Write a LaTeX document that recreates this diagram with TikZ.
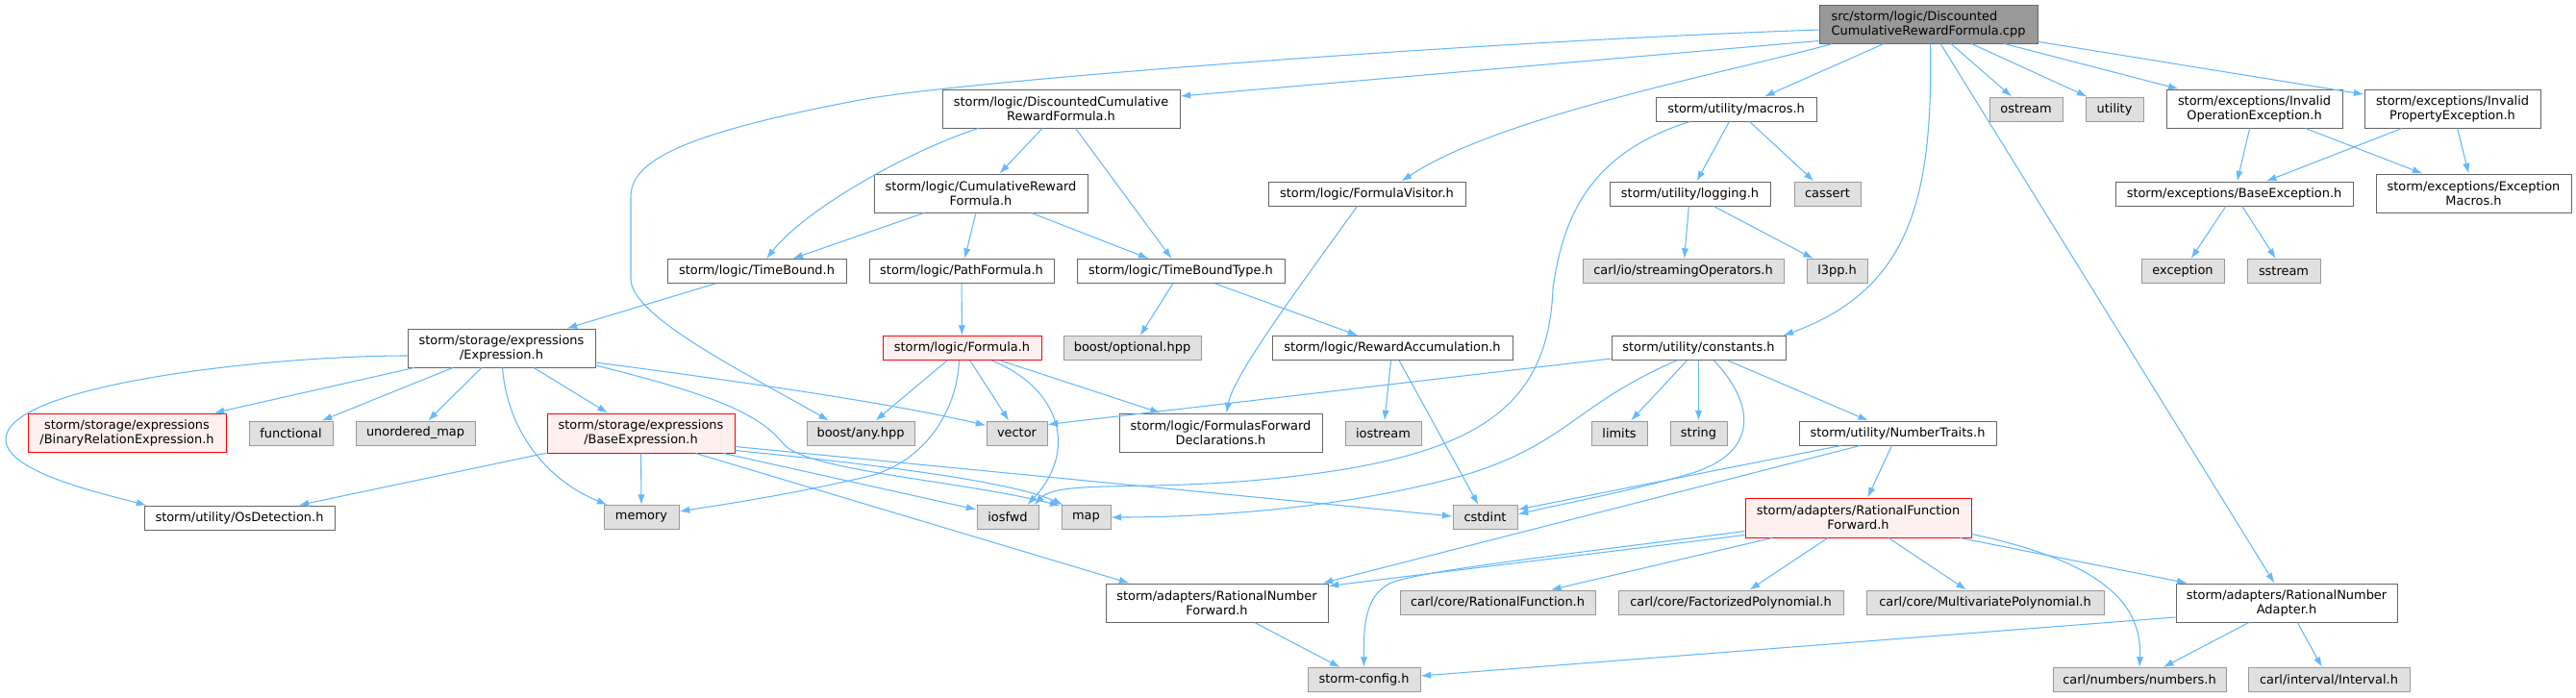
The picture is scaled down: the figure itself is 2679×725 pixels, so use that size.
\documentclass[tikz,border=0pt]{standalone}
\usepackage{fontspec}
\setmainfont{DejaVu Sans}
\usepackage{tikz}
\usetikzlibrary{arrows.meta,calc}
\definecolor{depblue}{HTML}{63B8FF}
\definecolor{hborder}{HTML}{666666}
\definecolor{sysfill}{HTML}{E0E0E0}
\definecolor{sysborder}{HTML}{999999}
\definecolor{cutfill}{HTML}{FFF0F0}

\begin{document}
\begin{tikzpicture}[x=.75pt, y=-.75pt,
    every node/.style={font=\fontsize{9.7}{11.25}\selectfont, inner sep=0pt, align=center},
    hfile/.style={draw=hborder, fill=white, line width=.75pt},
    sfile/.style={draw=sysborder, fill=sysfill, line width=.75pt},
    cfile/.style={draw=red, fill=cutfill, line width=.75pt},
    rootfile/.style={draw=hborder, fill=sysborder, line width=.75pt, align=left},
    wh/.style 2 args={minimum width=#1*.75pt, minimum height=#2*.75pt},
    dep/.style={draw=depblue, line width=.8pt, -{Latex[length=8pt,width=5.5pt]}}]
   \useasboundingbox (0,0) rectangle (2679,725);
   \node[rootfile, wh={227}{40}] (top) at (2005.5,25) {src/storm/logic/Discounted\\CumulativeRewardFormula.cpp};
   \node[hfile, wh={247}{40}] (dcrf) at (1103.5,113) {storm/logic/DiscountedCumulative\\RewardFormula.h};
   \node[hfile, wh={167}{25}] (macros) at (1805.5,113.5) {storm/utility/macros.h};
   \node[sfile, wh={76}{25}] (ostream) at (2107,113.5) {ostream};
   \node[sfile, wh={60}{25}] (utility) at (2199,113.5) {utility};
   \node[hfile, wh={183}{40}] (invop) at (2344.5,113) {storm/exceptions/Invalid\\OperationException.h};
   \node[hfile, wh={183}{40}] (invprop) at (2550.5,113) {storm/exceptions/Invalid\\PropertyException.h};
   \node[hfile, wh={222}{40}] (crf) at (1020,201) {storm/logic/CumulativeReward\\Formula.h};
   \node[hfile, wh={205}{25}] (fvis) at (1421.5,201.5) {storm/logic/FormulaVisitor.h};
   \node[hfile, wh={167}{25}] (logging) at (1757.5,201.5) {storm/utility/logging.h};
   \node[sfile, wh={69}{25}] (cassert) at (1900.5,201.5) {cassert};
   \node[hfile, wh={247}{25}] (baseexc) at (2323.5,201.5) {storm/exceptions/BaseException.h};
   \node[hfile, wh={203}{40}] (excmac) at (2572.5,201) {storm/exceptions/Exception\\Macros.h};
   \node[hfile, wh={186}{25}] (tbound) at (787,282) {storm/logic/TimeBound.h};
   \node[hfile, wh={192}{25}] (pathf) at (1000,282) {storm/logic/PathFormula.h};
   \node[hfile, wh={216}{25}] (tbtype) at (1228,282) {storm/logic/TimeBoundType.h};
   \node[sfile, wh={209}{25}] (strops) at (1750.5,282) {carl/io/streamingOperators.h};
   \node[sfile, wh={63}{25}] (l3pp) at (1910.5,282) {l3pp.h};
   \node[sfile, wh={86}{25}] (exception) at (2270,282) {exception};
   \node[sfile, wh={76}{25}] (sstream) at (2375,282) {sstream};
   \node[hfile, wh={195}{40}] (expr) at (521.5,362) {storm/storage/expressions\\/Expression.h};
   \node[cfile, wh={165}{25}] (formula) at (1000.5,362) {storm/logic/Formula.h};
   \node[sfile, wh={143}{25}] (optional) at (1177.5,362) {boost/optional.hpp};
   \node[hfile, wh={250}{25}] (rewacc) at (1448,362) {storm/logic/RewardAccumulation.h};
   \node[hfile, wh={181}{25}] (consts) at (1766.5,362) {storm/utility/constants.h};
   \node[cfile, wh={206}{40}] (binrel) at (132,450) {storm/storage/expressions\\/BinaryRelationExpression.h};
   \node[sfile, wh={87}{25}] (functional) at (302.5,450.5) {functional};
   \node[sfile, wh={124}{25}] (umap) at (432,450.5) {unordered\_map};
   \node[cfile, wh={195}{41}] (baseexpr) at (666.5,450.5) {storm/storage/expressions\\/BaseExpression.h};
   \node[sfile, wh={112}{25}] (anyhpp) at (895,450.5) {boost/any.hpp};
   \node[sfile, wh={63}{25}] (vector) at (1057.5,450.5) {vector};
   \node[hfile, wh={211}{40}] (ffwd) at (1269.5,450) {storm/logic/FormulasForward\\Declarations.h};
   \node[sfile, wh={79}{25}] (iostream) at (1438.5,450.5) {iostream};
   \node[sfile, wh={58}{25}] (limits) at (1684,450.5) {limits};
   \node[sfile, wh={59}{25}] (string) at (1766.5,450.5) {string};
   \node[hfile, wh={205}{25}] (numtraits) at (1973.5,450.5) {storm/utility/NumberTraits.h};
   \node[hfile, wh={198}{25}] (osdet) at (249,538.5) {storm/utility/OsDetection.h};
   \node[sfile, wh={78}{25}] (memory) at (667,538) {memory};
   \node[sfile, wh={64}{25}] (iosfwd) at (1048,538) {iosfwd};
   \node[sfile, wh={51}{25}] (map) at (1129.5,538) {map};
   \node[sfile, wh={67}{25}] (cstdint) at (1544.5,538) {cstdint};
   \node[cfile, wh={235}{41}] (rffwd) at (1932.5,538.5) {storm/adapters/RationalFunction\\Forward.h};
   \node[hfile, wh={231}{40}] (rnfwd) at (1265.5,627) {storm/adapters/RationalNumber\\Forward.h};
   \node[sfile, wh={203}{25}] (ratfun) at (1557.5,626.5) {carl/core/RationalFunction.h};
   \node[sfile, wh={234}{25}] (factpoly) at (1800,626.5) {carl/core/FactorizedPolynomial.h};
   \node[sfile, wh={247}{25}] (multipoly) at (2064.5,626.5) {carl/core/MultivariatePolynomial.h};
   \node[hfile, wh={230}{40}] (ratadapt) at (2378,627) {storm/adapters/RationalNumber\\Adapter.h};
   \node[sfile, wh={117}{25}] (config) at (1418.5,707) {storm-config.h};
   \node[sfile, wh={180}{25}] (numbers) at (2225,707) {carl/numbers/numbers.h};
   \node[sfile, wh={168}{25}] (interval) at (2422,707) {carl/interval/Interval.h};
   \draw[dep] ($(top.west)+(0,6)$) .. controls (1500,45) and (1000,85) .. (900,103) .. controls (700,140) and (656,170) .. (656,205) -- (656,290) .. controls (656,330) and (780,390) .. ($(anyhpp.north)+(-33,0)$);
   \draw[dep] ($(top.south west)+(0,-3)$) -- ($(dcrf.east)+(0,-13)$);
   \draw[dep] ($(top.south west)+(14,0)$) .. controls (1800,75) and (1560,120) .. ($(fvis.north)+(36,0)$);
   \draw[dep] (top) -- (macros);
   \draw[dep] ($(top.south)+(2,0)$) .. controls (2010,200) and (1990,300) .. ($(consts.north east)+(-3,0)$);
   \draw[dep] (top) -- (ratadapt);
   \draw[dep] (top) -- (ostream);
   \draw[dep] (top) -- (utility);
   \draw[dep] (top) -- (invop);
   \draw[dep] (top) -- (invprop);
   \draw[dep] (dcrf) -- (crf);
   \draw[dep] (dcrf) -- (tbtype);
   \draw[dep] ($(dcrf.south west)+(38,0)$) .. controls (950,155) and (840,215) .. ($(tbound.north)+(10,0)$);
   \draw[dep] (crf) -- (tbound);
   \draw[dep] (crf) -- (pathf);
   \draw[dep] (crf) -- (tbtype);
   \draw[dep] (tbound) -- (expr);
   \draw[dep] (pathf) -- (formula);
   \draw[dep] (tbtype) -- (optional);
   \draw[dep] (tbtype) -- (rewacc);
   \draw[dep] ($(fvis.south)+(-10,0)$) .. controls (1350,300) and (1283,390) .. ($(ffwd.north)+(6,0)$);
   \draw[dep] (macros) -- (logging);
   \draw[dep] (macros) -- (cassert);
   \draw[dep] ($(macros.south west)+(36,0)$) .. controls (1650,160) and (1625,230) .. (1615,300) .. controls (1610,430) and (1530,480) .. (1300,500) .. controls (1180,510) and (1100,500) .. ($(iosfwd.north east)+(-5,0)$);
   \draw[dep] (logging) -- (strops);
   \draw[dep] (logging) -- (l3pp);
   \draw[dep] (invop) -- (baseexc);
   \draw[dep] (invop) -- (excmac);
   \draw[dep] (invprop) -- (baseexc);
   \draw[dep] (invprop) -- (excmac);
   \draw[dep] (baseexc) -- (exception);
   \draw[dep] (baseexc) -- (sstream);
   \draw[dep] (rewacc) -- (iostream);
   \draw[dep] (rewacc) -- (cstdint);
   \draw[dep] ($(consts.west)+(0,11)$) -- ($(vector.east)+(0,-9)$);
   \draw[dep] ($(consts.south)+(-23,0)$) .. controls (1640,420) and (1630,460) .. (1530,492) .. controls (1400,530) and (1250,538) .. (map.east);
   \draw[dep] (consts) -- (limits);
   \draw[dep] (consts) -- (string);
   \draw[dep] ($(consts.south)+(16,0)$) .. controls (1825,420) and (1830,470) .. (1760,492) .. controls (1700,510) and (1620,525) .. ($(cstdint.east)+(0,-3)$);
   \draw[dep] (consts) -- (numtraits);
   \draw[dep] (expr) -- (binrel);
   \draw[dep] (expr) -- (functional);
   \draw[dep] (expr) -- (umap);
   \draw[dep] (expr) -- (baseexpr);
   \draw[dep] ($(expr.south)+(1,0)$) .. controls (528,450) and (570,500) .. ($(memory.north west)+(4,0)$);
   \draw[dep] ($(expr.west)+(0,8)$) .. controls (280,370) and (6,400) .. (6,457) .. controls (6,490) and (100,512) .. ($(osdet.north west)+(3,0)$);
   \draw[dep] ($(expr.east)+(0,15)$) .. controls (780,398) and (930,420) .. ($(vector.west)+(0,-8)$);
   \draw[dep] ($(expr.east)+(0,18)$) .. controls (740,410) and (790,430) .. (815,462) .. controls (840,490) and (1000,500) .. ($(map.north west)+(-1,1)$);
   \draw[dep] (baseexpr) -- (memory);
   \draw[dep] (baseexpr) -- (osdet);
   \draw[dep] ($(baseexpr.east)+(0,14)$) -- ($(cstdint.west)+(0,-1)$);
   \draw[dep] ($(baseexpr.east)+(0,18)$) .. controls (900,482) and (1050,500) .. ($(map.north west)+(2,0)$);
   \draw[dep] ($(baseexpr.south east)+(-12,0)$) -- ($(iosfwd.west)+(0,-8)$);
   \draw[dep] ($(baseexpr.south east)+(-41,0)$) -- ($(rnfwd.north west)+(25,0)$);
   \draw[dep] (formula) -- (anyhpp);
   \draw[dep] (formula) -- (vector);
   \draw[dep] (formula) -- (ffwd);
   \draw[dep] ($(formula.south)+(-3,0)$) .. controls (995,430) and (960,480) .. (905,495) .. controls (820,515) and (750,525) .. ($(memory.east)+(0,-6)$);
   \draw[dep] ($(formula.south)+(31,0)$) .. controls (1105,405) and (1120,470) .. ($(iosfwd.north east)+(-12,0)$);
   \draw[dep] (rnfwd) -- (config);
   \draw[dep] ($(numtraits.south west)+(44,0)$) -- ($(cstdint.east)+(0,-8)$);
   \draw[dep] ($(numtraits.south west)+(64,0)$) -- ($(rnfwd.north east)+(-6,0)$);
   \draw[dep] (numtraits) -- (rffwd);
   \draw[dep] ($(rffwd.west)+(0,18)$) -- ($(rnfwd.north east)+(0,3)$);
   \draw[dep] ($(rffwd.west)+(0,14)$) .. controls (1600,580) and (1470,595) .. (1445,607) .. controls (1420,620) and (1418,650) .. (config.north);
   \draw[dep] (rffwd) -- (ratfun);
   \draw[dep] (rffwd) -- (factpoly);
   \draw[dep] (rffwd) -- (multipoly);
   \draw[dep] (rffwd) -- (ratadapt);
   \draw[dep] ($(rffwd.east)+(0,17)$) .. controls (2190,585) and (2228,630) .. (numbers.north);
   \draw[dep] ($(ratadapt.west)+(0,15)$) -- ($(config.east)+(0,-4)$);
   \draw[dep] (ratadapt) -- (numbers);
   \draw[dep] (ratadapt) -- (interval);
\end{tikzpicture}
\end{document}
